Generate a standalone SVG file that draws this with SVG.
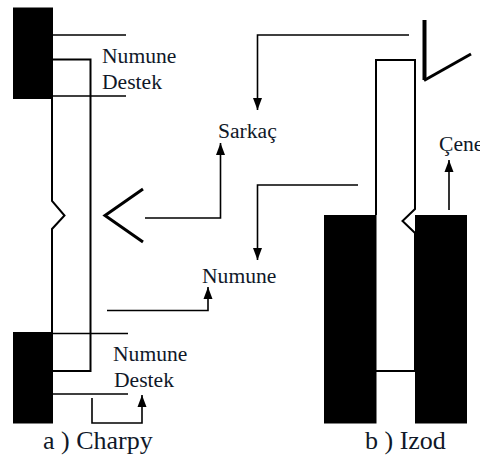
<svg xmlns="http://www.w3.org/2000/svg" width="480" height="459" viewBox="0 0 480 459">
<style>
text{font-family:"Liberation Serif","Times New Roman",serif;font-size:21.600px;fill:#101828}
.c{font-size:26px}
.l{fill:none;stroke:#000;stroke-width:1.6}
.s{fill:none;stroke:#000;stroke-width:2}
.p{fill:none;stroke:#000;stroke-width:3}
.b{fill:#000}
</style>
<defs>
<marker id="a" markerUnits="userSpaceOnUse" markerWidth="13" markerHeight="10" refX="12" refY="5" orient="auto"><path d="M0 0.500L12 5L0 9.500Z" fill="#000"/></marker>
</defs>
<rect width="480" height="459" fill="#fff"/>
<g id="charpy-upper-support">
<rect class="b" x="13" y="7.500" width="40" height="91.500"/>
<path class="l" d="M53 35H126M53 96H126"/>
</g>
<g id="charpy-lower-support">
<rect class="b" x="13" y="332" width="40" height="91.500"/>
<path class="l" d="M53 333.500H128M53 394H128"/>
</g>
<g id="charpy-specimen">
<path class="s" d="M53 59.500H90.500V371H53M52 99V201L64.500 215.500L52 229V332"/>
</g>
<g id="charpy-pendulum">
<path class="p" d="M143 189L105 215.500L143 242"/>
</g>
<g id="izod-jaws">
<rect class="b" x="324" y="215" width="52.500" height="208.500"/>
<rect class="b" x="415" y="215" width="52" height="208.500"/>
</g>
<g id="izod-specimen">
<path class="s" d="M376 215V60H415V209L402.500 221L415 233V371H376"/>
</g>
<g id="izod-pendulum">
<path d="M424.500 20V80" fill="none" stroke="#000" stroke-width="4"/>
<path class="p" d="M424 80.500L471 54"/>
</g>
<g id="connectors">
<path class="l" marker-end="url(#a)" d="M145 218H220.500V143"/>
<path class="l" marker-end="url(#a)" d="M107 310.500H208V287"/>
<path class="l" marker-end="url(#a)" d="M92 398V423H142V395"/>
<path class="l" marker-end="url(#a)" d="M409 35H257.500V110"/>
<path class="l" marker-end="url(#a)" d="M358 185H257.500V260"/>
<path class="l" marker-end="url(#a)" d="M449 210V160"/>
</g>
<g id="labels">
<text x="102" y="63">Numune</text>
<text x="102" y="89">Destek</text>
<text x="218" y="138">Sarkaç</text>
<text x="439" y="151">Çene</text>
<text x="202" y="283">Numune</text>
<text x="113" y="361">Numune</text>
<text x="114" y="387">Destek</text>
<text class="c" x="43" y="449">a ) Charpy</text>
<text class="c" x="365" y="449">b ) Izod</text>
</g>
</svg>
